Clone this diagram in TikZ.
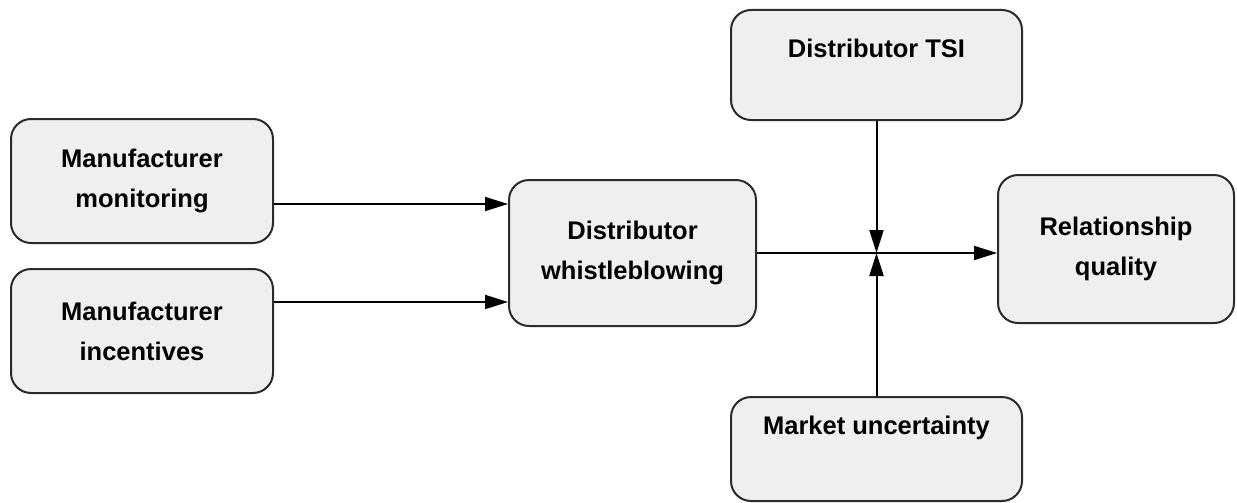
\documentclass[tikz,border=0pt]{standalone}
\usepackage{fontspec}
\setmainfont{Liberation Sans}
\usetikzlibrary{arrows.meta}
\definecolor{boxfill}{HTML}{EFEFEF}
\definecolor{boxline}{HTML}{2B2B2B}
\begin{document}
\begin{tikzpicture}[x=1pt,y=-1pt,
  box/.style={draw=boxline, line width=2pt, fill=boxfill, rounded corners=20pt, inner sep=0pt, align=center,
    font=\fontsize{25.5}{40}\selectfont\bfseries},
  lbl/.style={inner sep=0pt, font=\fontsize{25.5}{40}\selectfont\bfseries},
  arr/.style={draw=black, line width=2pt, -{Triangle[length=23pt,width=14pt]}}]
\useasboundingbox (0,0) rectangle (1237,503);
\node[box, minimum width=262pt, minimum height=124pt] (mm) at (142,181) {Manufacturer\\monitoring};
\node[box, minimum width=262pt, minimum height=124pt] (mi) at (142,331) {Manufacturer\\incentives};
\node[box, minimum width=247pt, minimum height=146pt] (dw) at (632.5,253) {Distributor\\whistleblowing};
\node[box, minimum width=291pt, minimum height=110pt] (tsi) at (876.5,65) {};
\node[lbl] (tsit) at (876.5,48) {Distributor TSI};
\node[box, minimum width=236pt, minimum height=148pt] (rq) at (1116,249) {Relationship\\quality};
\node[box, minimum width=291pt, minimum height=104pt] (mu) at (876.5,449) {};
\node[lbl] (mut) at (876.5,428) {Market uncertainty};
\coordinate (y1) at (0,204);
\coordinate (y2) at (0,302);
\coordinate (j) at (876.5,253);
\draw[arr] (mm.east |- y1) -- (dw.west |- y1);
\draw[arr] (mi.east |- y2) -- (dw.west |- y2);
\draw[arr] (dw.east |- j) -- (rq.west |- j);
\draw[arr] (tsi.south) -- (j);
\draw[arr] (mu.north) -- (j);
\end{tikzpicture}
\end{document}
